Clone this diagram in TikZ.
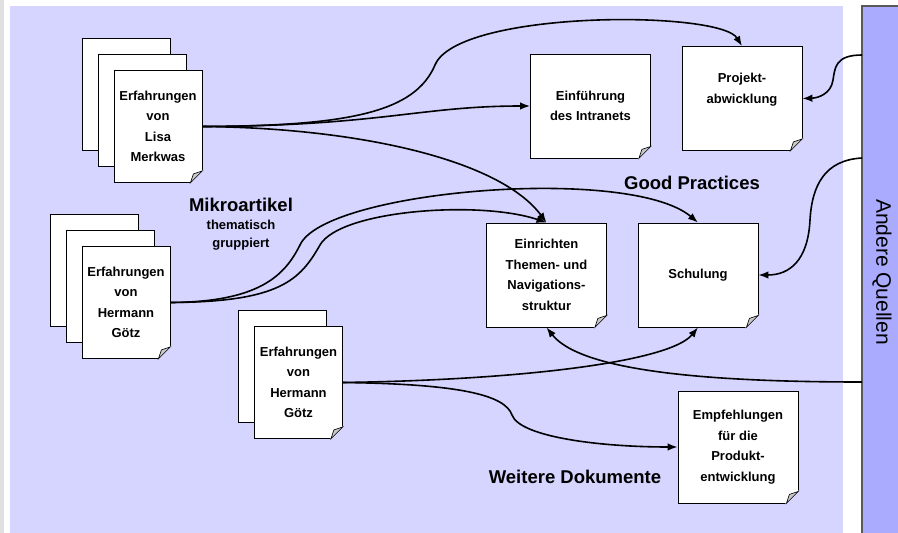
\documentclass[tikz,border=0pt]{standalone}
\usepackage{fontspec}
\setmainfont{Liberation Sans}
\usetikzlibrary{calc, arrows.meta}

% folded corner of a document
\newcommand{\dogear}[1]{%
    \filldraw[bgColour, line width=1pt] ($(#1.south east)+(-12,0)$) -- (#1.south east) -- ($(#1.south east)+(0,-12)$) -- cycle;
    \filldraw[fill=foldColour, draw=black, line width=0.6pt] ($(#1.south east)+(-12,0)$) -- ($(#1.south east)+(0,-12)$) -- ($(#1.south east)+(-9,-9)$) -- cycle;
}

\begin{document}
\begin{tikzpicture}[x=1pt, y=-1pt,
    sheet/.style={draw=black, fill=white, line width=0.8pt, minimum width=88pt, minimum height=112pt, inner sep=0pt},
    doc/.style={sheet, align=center, font=\fontsize{13}{20.5}\selectfont\bfseries},
    gp/.style={doc, minimum width=120pt, minimum height=104pt},
    heading/.style={font=\fontsize{18.5}{20}\selectfont\bfseries},
    link/.style={line width=1.6pt, -{Latex[length=10pt,width=7.5pt]}}]

    % Define colours
    \definecolor{bgColour}{HTML}{D5D5FF}
    \definecolor{barColour}{HTML}{AAAAFF}
    \definecolor{stripColour}{HTML}{E0E0E0}
    \definecolor{foldColour}{HTML}{C8C8C8}

    \useasboundingbox (0,0) rectangle (898,533);

    % Draw background
    \fill[stripColour] (0,0) rectangle (4,533);
    \fill[bgColour] (10,6) rectangle (843,533);
    \node[draw=black!65, line width=1.5pt, fill=barColour, rotate=-90, minimum width=532pt, minimum height=40pt, font=\fontsize{21}{24}\selectfont] (quellen) at (882,272) {Andere Quellen};

    % Experiences of Lisa
    \node[sheet] (lisaC) at (126,94.5) {};
    \node[sheet] (lisaB) at (142,110.5) {};
    \node[doc] (lisa) at (158,126.5) {Erfahrungen\\von\\Lisa\\Merkwas};
    \dogear{lisa}

    % Experiences of Hermann (first set)
    \node[sheet] (hermA) at (94,270.5) {};
    \node[sheet] (hermB) at (110,286.5) {};
    \node[doc] (herm) at (126,302.5) {Erfahrungen\\von\\Hermann\\Götz};
    \dogear{herm}

    % Experiences of Hermann (second set)
    \node[sheet] (hermD) at (282.5,366.5) {};
    \node[doc] (hermE) at (298.5,382.5) {Erfahrungen\\von\\Hermann\\Götz};
    \dogear{hermE}

    % Good practices
    \node[gp] (einf) at (590.5,106) {Einführung\\des Intranets};
    \dogear{einf}
    \node[gp] (proj) at (742,98.5) {Projekt-\\abwicklung\\\mbox{}};
    \dogear{proj}
    \node[gp] (einr) at (546.5,275) {Einrichten\\Themen- und\\Navigations-\\struktur};
    \dogear{einr}
    \node[gp] (schul) at (698,275) {Schulung};
    \dogear{schul}

    % Further documents
    \node[gp, minimum height=112pt] (empf) at (738,447) {Empfehlungen\\für die\\Produkt-\\entwicklung};
    \dogear{empf}

    % Labels
    \node[heading] (gpLabel) at (692,183) {Good Practices};
    \node[align=center, font=\fontsize{13}{18}\selectfont\bfseries] (mikro) at (241,224) {{\fontsize{18.5}{18}\selectfont Mikroartikel}\\thematisch\\gruppiert};
    \node[heading] (weitere) at (575,477) {Weitere Dokumente};

    % Links from the microarticles
    \draw[link] (lisa.east) .. controls (350,126) and (415,112) .. (435,65) .. controls (458,10) and (720,10) .. (proj.north);
    \draw[link] (lisa.east) .. controls (380,126) and (420,106) .. (einf.west);
    \draw[link] (lisa.east) .. controls (360,128) and (500,160) .. (einr.north);
    \draw[link] (herm.east) .. controls (280,302) and (300,280) .. (320,245) .. controls (340,210) and (480,200) .. (einr.north);
    \draw[link] (herm.east) .. controls (260,302) and (285,275) .. (300,245) .. controls (325,190) and (630,165) .. (schul.north);
    \draw[link] (hermE.east) .. controls (520,380) and (670,362) .. (schul.south);
    \draw[link] (hermE.east) .. controls (460,384) and (505,395) .. (512,415) .. controls (520,437) and (600,447) .. (empf.west);

    % Links from other sources
    \coordinate (q1) at (862,55);
    \coordinate (q2) at (862,158);
    \coordinate (q3) at (862,382);
    \draw[link] (q1) .. controls (835,55) and (835,68) .. (833,80) .. controls (831,94) and (818,98) .. (proj.east);
    \draw[link] (q2) .. controls (825,160) and (812,185) .. (810,220) .. controls (808,260) and (790,275) .. (schul.east);
    \draw[link] (q3) .. controls (700,382) and (580,370) .. (einr.south);

\end{tikzpicture}
\end{document}
